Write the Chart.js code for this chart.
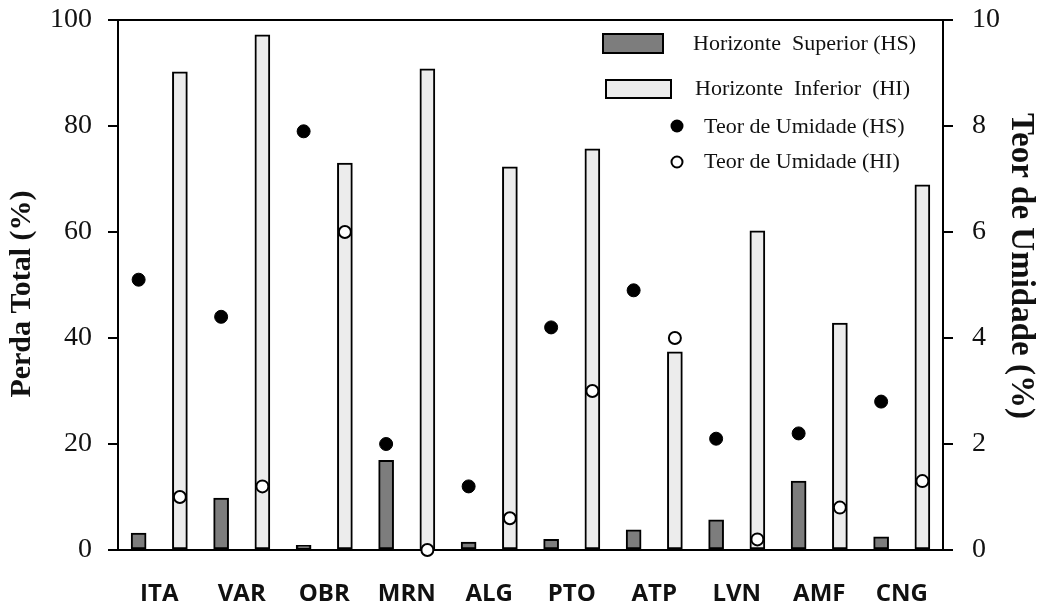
<!DOCTYPE html>
<html>
<head>
<meta charset="utf-8">
<script src="https://cdn.jsdelivr.net/npm/chart.js@4"></script>
<style>
  html, body { margin: 0; padding: 0; background: #fff; }
  #wrap { width: 1045px; height: 607px; }
</style>
</head>
<body>
<div id="wrap"><canvas id="chart" width="1045" height="607"></canvas></div>
<script>
// Data
const sites = ['ITA', 'VAR', 'OBR', 'MRN', 'ALG', 'PTO', 'ATP', 'LVN', 'AMF', 'CNG'];
const lossHS = [3.2, 9.8, 0.9, 16.9, 1.5, 2.0, 3.8, 5.7, 13.0, 2.5];
const lossHI = [90.2, 97.2, 73.0, 90.8, 72.3, 75.7, 37.4, 60.2, 42.8, 68.9];
const moistHS = [5.1, 4.4, 7.9, 2.0, 1.2, 4.2, 4.9, 2.1, 2.2, 2.8];
const moistHI = [1.0, 1.2, 6.0, 0.0, 0.6, 3.0, 4.0, 0.2, 0.8, 1.3];
const leftTicks = [0, 20, 40, 60, 80, 100];
const rightTicks = [0, 2, 4, 6, 8, 10];

const legendLabels = ['Horizonte  Superior (HS)', 'Horizonte  Inferior  (HI)', 'Teor de Umidade (HS)', 'Teor de Umidade (HI)'];
const leftTitle = 'Perda Total (%)';
const rightTitle = 'Teor de Umidade (%)';

const darkFill = '#7d7d7d';
const lightFill = '#ececec';
const serif = '"Liberation Serif", "Times New Roman", serif';

// each site has two slots: HS on the left quarter, HI on the right quarter
const hsSlot = i => i - 0.25;
const hiSlot = i => i + 0.25;

function rotatedText(ctx, text, x, y, angle, font) {
    ctx.save();
    ctx.translate(x, y);
    ctx.rotate(angle);
    ctx.font = font;
    ctx.fillStyle = '#111';
    ctx.textAlign = 'center';
    ctx.textBaseline = 'middle';
    ctx.fillText(text, 0, 0);
    ctx.restore();
}

// top frame line, axis titles and legend
const framePlugin = {
    id: 'frame',
    afterDraw(chart) {
        const { ctx, chartArea } = chart;
        ctx.save();
        ctx.strokeStyle = '#000';
        ctx.lineWidth = 2;
        ctx.beginPath();
        ctx.moveTo(chartArea.left - 10, chartArea.top);
        ctx.lineTo(chartArea.right + 10, chartArea.top);
        ctx.stroke();

        rotatedText(ctx, leftTitle, 22, 294, -Math.PI / 2, 'bold 30px ' + serif);
        rotatedText(ctx, rightTitle, 1021, 266, Math.PI / 2, 'bold 33px ' + serif);

        // legend
        ctx.font = '22px ' + serif;
        ctx.textBaseline = 'middle';
        ctx.textAlign = 'left';

        ctx.fillStyle = darkFill;
        ctx.fillRect(603, 34, 60, 19);
        ctx.strokeRect(603, 34, 60, 19);
        ctx.fillStyle = lightFill;
        ctx.fillRect(606, 80, 65, 18);
        ctx.strokeRect(606, 80, 65, 18);

        ctx.beginPath();
        ctx.fillStyle = '#000';
        ctx.arc(677, 126, 6.5, 0, Math.PI * 2);
        ctx.fill();

        ctx.beginPath();
        ctx.fillStyle = '#fff';
        ctx.arc(677, 162, 5.5, 0, Math.PI * 2);
        ctx.fill();
        ctx.stroke();

        ctx.fillStyle = '#111';
        ctx.fillText(legendLabels[0], 693, 44);
        ctx.fillText(legendLabels[1], 695, 89);
        ctx.fillText(legendLabels[2], 704, 127);
        ctx.fillText(legendLabels[3], 704, 162);
        ctx.restore();
    }
};

function fixAxis(width) {
    return scale => {
        scale.width = width;
        scale.paddingTop = 0;
        scale.paddingBottom = 0;
    };
}

const ctx = document.getElementById('chart').getContext('2d');
const chart = new Chart(ctx, {
    type: 'bar',
    data: {
        labels: sites,
        datasets: [
            {
                label: 'Horizonte Superior (HS)',
                data: lossHS.map((v, i) => ({ x: hsSlot(i), y: v })),
                backgroundColor: darkFill,
                borderColor: '#000',
                borderWidth: 2,
                borderSkipped: false,
                grouped: false,
                barThickness: 15,
                xAxisID: 'xp',
                yAxisID: 'y',
                order: 2
            },
            {
                label: 'Horizonte Inferior (HI)',
                data: lossHI.map((v, i) => ({ x: hiSlot(i), y: v })),
                backgroundColor: lightFill,
                borderColor: '#000',
                borderWidth: 2,
                borderSkipped: false,
                grouped: false,
                barThickness: 15,
                xAxisID: 'xp',
                yAxisID: 'y',
                order: 2
            },
            {
                type: 'scatter',
                label: 'Teor de Umidade (HS)',
                data: moistHS.map((v, i) => ({ x: hsSlot(i), y: v })),
                backgroundColor: '#000',
                borderColor: '#000',
                borderWidth: 1,
                pointRadius: 6.5,
                xAxisID: 'xp',
                yAxisID: 'y1',
                clip: false,
                order: 0
            },
            {
                type: 'scatter',
                label: 'Teor de Umidade (HI)',
                data: moistHI.map((v, i) => ({ x: hiSlot(i), y: v })),
                backgroundColor: '#fff',
                borderColor: '#000',
                borderWidth: 2,
                pointRadius: 6,
                xAxisID: 'xp',
                yAxisID: 'y1',
                clip: false,
                order: 0
            }
        ]
    },
    plugins: [framePlugin],
    options: {
        responsive: false,
        animation: false,
        layout: { padding: { top: 20, left: 0, right: 0, bottom: 0 } },
        plugins: {
            legend: { display: false },
            tooltip: { enabled: false }
        },
        scales: {
            x: {
                type: 'category',
                offset: true,
                grid: { display: false, drawTicks: false },
                border: { display: true, color: '#000', width: 2 },
                ticks: {
                    color: '#111',
                    padding: 30,
                    font: { family: '"Open Sans", sans-serif', size: 24, weight: 'bold' }
                },
                afterFit(scale) {
                    scale.height = 57;
                    scale.paddingLeft = 0;
                    scale.paddingRight = 0;
                }
            },
            xp: {
                type: 'linear',
                display: false,
                offset: false,
                min: -0.5,
                max: 9.5
            },
            y: {
                position: 'left',
                min: 0,
                max: 100,
                afterBuildTicks(scale) { scale.ticks = leftTicks.map(v => ({ value: v })); },
                grid: { display: true, drawOnChartArea: false, drawTicks: true, tickLength: 10, color: '#000', lineWidth: 2 },
                border: { display: true, color: '#000', width: 2 },
                ticks: {
                    color: '#111',
                    padding: 16,
                    font: { family: serif, size: 28 }
                },
                afterFit: fixAxis(118)
            },
            y1: {
                position: 'right',
                min: 0,
                max: 10,
                afterBuildTicks(scale) { scale.ticks = rightTicks.map(v => ({ value: v })); },
                grid: { display: true, drawOnChartArea: false, drawTicks: true, tickLength: 10, color: '#000', lineWidth: 2 },
                border: { display: true, color: '#000', width: 2 },
                ticks: {
                    color: '#111',
                    padding: 19,
                    font: { family: serif, size: 28 }
                },
                afterFit: fixAxis(102)
            }
        }
    }
});
</script>
</body>
</html>
